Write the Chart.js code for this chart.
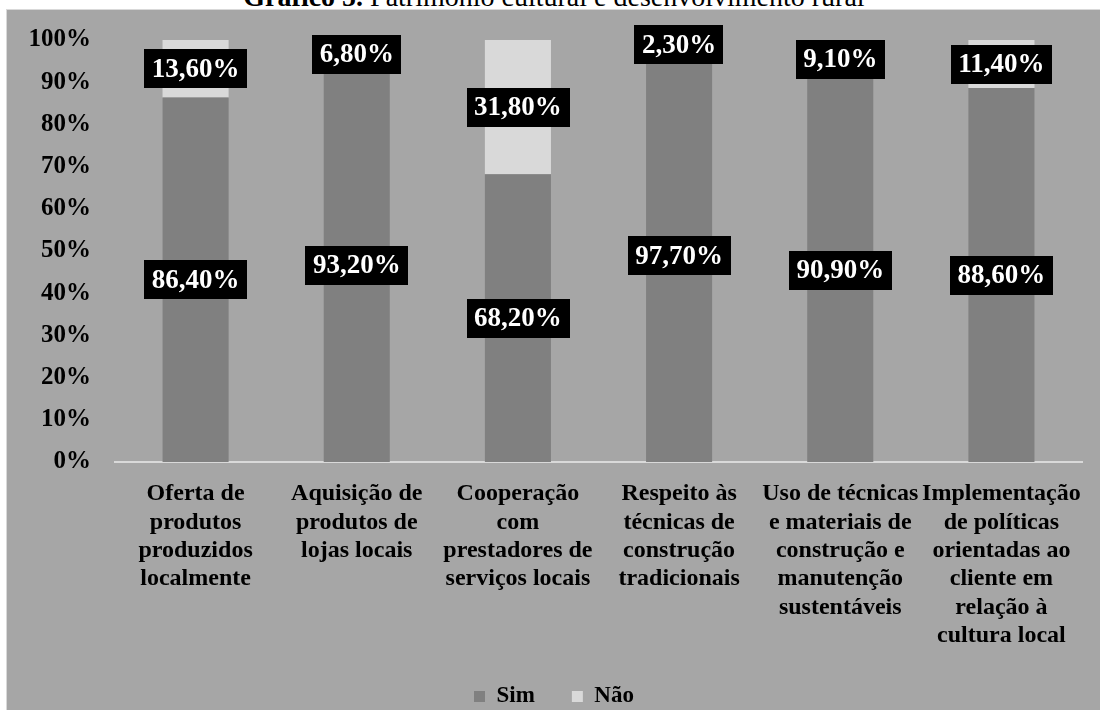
<!DOCTYPE html>
<html>
<head>
<meta charset="utf-8">
<script src="https://cdn.jsdelivr.net/npm/chart.js@4.4.1/dist/chart.umd.min.js"></script>
<style>
  html, body { margin: 0; padding: 0; background: #fff; overflow: hidden; width: 1100px; height: 710px; }
  #title {
    position: absolute; left: 0; top: -17px; width: 1108px; text-align: center;
    font: 28px 'Liberation Serif', serif; line-height: 28px; color: #000; white-space: nowrap;
  }
  #box {
    position: absolute; left: 6px; top: 9px; width: 1094px; height: 710px;
    border-left: 1px solid #d9d9d9; border-top: 1px solid #d9d9d9; background: #a6a6a6;
  }
  #chart { display: block; }
</style>
</head>
<body>
<div id="title"><b>Gráfico 5.</b> Patrimônio cultural e desenvolvimento rural</div>
<div id="box"><canvas id="chart" width="1093" height="708"></canvas></div>
<script>
// categories (one array of lines per bar)
const categories = [
  ['Oferta de', 'produtos', 'produzidos', 'localmente'],
  ['Aquisição de', 'produtos de', 'lojas locais'],
  ['Cooperação', 'com', 'prestadores de', 'serviços locais'],
  ['Respeito às', 'técnicas de', 'construção', 'tradicionais'],
  ['Uso de técnicas', 'e materiais de', 'construção e', 'manutenção', 'sustentáveis'],
  ['Implementação', 'de políticas', 'orientadas ao', 'cliente em', 'relação à', 'cultura local']
];
const simValues = [86.4, 93.2, 68.2, 97.7, 90.9, 88.6];
const naoValues = [13.6, 6.8, 31.8, 2.3, 9.1, 11.4];
const seriesNames = ['Sim', 'Não'];

const SERIF = "'Liberation Serif', 'Times New Roman', serif";
const fmt = v => v.toFixed(2).replace('.', ',') + '%';

// black boxes with white text in the middle of each segment
const boxLabels = {
  id: 'boxLabels',
  afterDatasetsDraw(chart) {
    const { ctx } = chart;
    ctx.save();
    ctx.font = 'bold 27px ' + SERIF;
    ctx.textAlign = 'center';
    ctx.textBaseline = 'middle';
    chart.data.datasets.forEach((ds, i) => {
      const meta = chart.getDatasetMeta(i);
      meta.data.forEach((bar, j) => {
        const { x, y, base } = bar.getProps(['x', 'y', 'base'], true);
        const cy = (y + base) / 2;
        const txt = fmt(ds.data[j]);
        const w = ctx.measureText(txt).width + 15;
        const h = 39;
        ctx.fillStyle = '#000';
        ctx.fillRect(Math.round(x - w / 2), Math.round(cy - h / 2), Math.round(w), h);
        ctx.fillStyle = '#fff';
        ctx.fillText(txt, x, cy + 1);
      });
    });
    ctx.restore();
  }
};

new Chart(document.getElementById('chart'), {
  type: 'bar',
  data: {
    labels: categories,
    datasets: [
      { label: seriesNames[0], data: simValues, backgroundColor: '#808080' },
      { label: seriesNames[1], data: naoValues, backgroundColor: '#d9d9d9' }
    ]
  },
  options: {
    responsive: false,
    animation: false,
    devicePixelRatio: 1,
    categoryPercentage: 1,
    barPercentage: 0.41,
    layout: { padding: { top: 30, right: 15, left: 16, bottom: 0 } },
    plugins: {
      legend: {
        position: 'bottom',
        labels: {
          color: '#000', boxWidth: 11, boxHeight: 11, padding: 37,
          font: { family: SERIF, size: 23, weight: 'bold' }
        }
      },
      tooltip: { enabled: false }
    },
    scales: {
      x: {
        stacked: true,
        grid: { display: false, drawTicks: false },
        border: { display: true, color: '#d9d9d9', width: 2 },
        ticks: {
          color: '#000', maxRotation: 0, autoSkip: false, padding: 18,
          font: { family: SERIF, size: 24, weight: 'bold', lineHeight: 1.18 }
        },
        afterFit(s) { s.height = 186; }
      },
      y: {
        stacked: true,
        min: 0, max: 100,
        grid: { display: false, drawTicks: false },
        border: { display: false },
        ticks: {
          color: '#000', stepSize: 10, padding: 24,
          font: { family: SERIF, size: 25, weight: 'bold' },
          callback: v => v + '%'
        },
        afterFit(s) { s.width = 92; s.paddingTop = 0; s.paddingBottom = 0; }
      }
    }
  },
  plugins: [boxLabels]
});
</script>
</body>
</html>
